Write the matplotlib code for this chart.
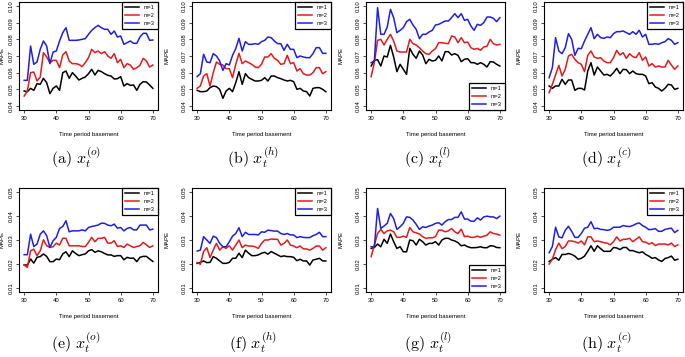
import numpy as np
import matplotlib
matplotlib.use("Agg")
import matplotlib.pyplot as plt

plt.rcParams['mathtext.fontset'] = 'cm'
plt.rcParams['font.family'] = ['Liberation Sans', 'DejaVu Sans']

# time period basement
x = np.arange(30, 71)

# (a) x_t^(o)
a_m1 = [0.049,0.0486,0.0506,0.0494,0.0534,0.053,0.0566,0.054,0.0474,0.0506,0.052,0.0494,0.06,0.061,0.0566,0.06,0.058,0.0556,0.0566,0.0574,0.0594,0.062,0.0586,0.0614,0.0606,0.0594,0.0584,0.058,0.0562,0.0564,0.0576,0.052,0.0534,0.0524,0.0526,0.0494,0.053,0.0546,0.0544,0.0526,0.0506]
a_m2 = [0.046,0.049,0.06,0.0604,0.055,0.0574,0.072,0.0694,0.066,0.0674,0.0674,0.063,0.0706,0.0726,0.067,0.0654,0.0654,0.065,0.0636,0.066,0.069,0.074,0.072,0.073,0.0714,0.0726,0.07,0.0686,0.0714,0.066,0.068,0.063,0.0654,0.0646,0.062,0.063,0.0644,0.0686,0.067,0.0634,0.0646]
a_m3 = [0.0554,0.0554,0.076,0.065,0.0664,0.074,0.079,0.076,0.0654,0.0724,0.073,0.079,0.084,0.087,0.0794,0.0794,0.0794,0.0796,0.08,0.0804,0.083,0.0854,0.087,0.0884,0.087,0.086,0.086,0.083,0.085,0.0814,0.082,0.077,0.078,0.079,0.0776,0.0776,0.0814,0.0836,0.0836,0.0794,0.0796]
# (b) x_t^(h)
b_m1 = [0.0494,0.0486,0.0486,0.049,0.051,0.052,0.0516,0.05,0.0446,0.049,0.0506,0.0486,0.054,0.0606,0.053,0.0594,0.057,0.056,0.055,0.055,0.0554,0.057,0.055,0.058,0.058,0.057,0.0564,0.0556,0.055,0.0554,0.0546,0.05,0.0506,0.049,0.0486,0.046,0.0506,0.051,0.051,0.05,0.0486]
b_m2 = [0.0506,0.052,0.058,0.0594,0.052,0.06,0.0664,0.065,0.0646,0.0624,0.0624,0.057,0.065,0.0716,0.0654,0.067,0.066,0.065,0.0634,0.063,0.065,0.0694,0.0694,0.0714,0.0686,0.0674,0.065,0.0654,0.0704,0.0654,0.066,0.061,0.0624,0.0594,0.0586,0.0586,0.06,0.063,0.063,0.0594,0.0606]
b_m3 = [0.0576,0.0594,0.071,0.0664,0.066,0.0714,0.07,0.067,0.0614,0.0654,0.0646,0.0704,0.0744,0.0806,0.073,0.0786,0.077,0.077,0.0774,0.077,0.0786,0.0794,0.0814,0.081,0.079,0.0774,0.0774,0.0734,0.077,0.074,0.074,0.069,0.07,0.0694,0.069,0.069,0.0714,0.075,0.075,0.0716,0.0716]
# (c) x_t^(l)
c_m1 = [0.064,0.0674,0.0678,0.064,0.07,0.0694,0.0764,0.0694,0.0606,0.065,0.062,0.059,0.0746,0.071,0.0686,0.073,0.0706,0.0654,0.068,0.067,0.0674,0.07,0.067,0.0726,0.0726,0.0706,0.0714,0.0704,0.0666,0.068,0.0684,0.066,0.066,0.065,0.066,0.065,0.0634,0.0666,0.0664,0.065,0.064]
c_m2 = [0.0576,0.066,0.0794,0.08,0.0766,0.08,0.083,0.079,0.073,0.0724,0.0724,0.0724,0.08,0.0774,0.0766,0.075,0.073,0.0714,0.071,0.073,0.0744,0.078,0.078,0.0776,0.0774,0.082,0.0814,0.078,0.081,0.078,0.0784,0.075,0.074,0.0746,0.0734,0.0754,0.0758,0.08,0.0774,0.0766,0.077]
c_m3 = [0.066,0.067,0.099,0.083,0.083,0.0874,0.098,0.093,0.084,0.0854,0.087,0.0906,0.092,0.0886,0.086,0.0804,0.083,0.083,0.0844,0.0854,0.0886,0.089,0.09,0.091,0.091,0.093,0.0954,0.093,0.0954,0.0914,0.092,0.088,0.0854,0.089,0.0884,0.09,0.0934,0.0934,0.0926,0.0906,0.093]
# (d) x_t^(c)
d_m1 = [0.052,0.0506,0.052,0.052,0.056,0.053,0.0556,0.0556,0.0494,0.0506,0.0506,0.0496,0.061,0.066,0.0586,0.0634,0.061,0.0586,0.059,0.058,0.06,0.0626,0.0594,0.062,0.0618,0.0594,0.061,0.0594,0.059,0.059,0.058,0.0534,0.054,0.0514,0.0506,0.049,0.0506,0.053,0.0526,0.05,0.0506]
d_m2 = [0.048,0.053,0.0586,0.0644,0.058,0.062,0.07,0.071,0.068,0.066,0.065,0.0606,0.0704,0.073,0.0694,0.0686,0.069,0.067,0.066,0.066,0.069,0.0734,0.0706,0.072,0.0686,0.0714,0.0696,0.069,0.072,0.0674,0.0694,0.064,0.0654,0.0634,0.064,0.0634,0.0634,0.0674,0.0646,0.062,0.064]
d_m3 = [0.057,0.063,0.081,0.073,0.0714,0.075,0.0834,0.08,0.0704,0.0746,0.0744,0.079,0.083,0.087,0.0804,0.083,0.081,0.0806,0.0814,0.081,0.0834,0.0846,0.0846,0.085,0.084,0.083,0.0846,0.083,0.0854,0.0814,0.083,0.077,0.077,0.0774,0.077,0.078,0.0786,0.0804,0.0794,0.077,0.078]
# (e) x_t^(o)
e_m1 = [0.0196,0.0196,0.0221,0.0204,0.0228,0.0231,0.0242,0.0232,0.021,0.021,0.0221,0.0218,0.0242,0.0251,0.0231,0.0255,0.0244,0.0235,0.0239,0.0242,0.0255,0.026,0.0249,0.0255,0.0251,0.0244,0.0238,0.0238,0.0232,0.0235,0.0235,0.0218,0.0228,0.0224,0.0225,0.021,0.0228,0.0232,0.0232,0.0221,0.0211]
e_m2 = [0.0196,0.0186,0.0255,0.0262,0.0235,0.0255,0.0301,0.0276,0.0269,0.0272,0.0287,0.0279,0.0307,0.0307,0.0276,0.0276,0.0276,0.0276,0.0273,0.0273,0.029,0.0311,0.0293,0.0307,0.0307,0.0311,0.0287,0.0287,0.0297,0.0273,0.0276,0.0269,0.0283,0.0276,0.0269,0.0273,0.0276,0.029,0.028,0.0269,0.0276]
e_m3 = [0.0239,0.0239,0.0324,0.0273,0.0283,0.0324,0.0338,0.0318,0.0269,0.0297,0.0311,0.0348,0.0356,0.038,0.0334,0.0338,0.0338,0.0338,0.0342,0.0338,0.0352,0.0356,0.0359,0.0362,0.037,0.0369,0.0362,0.0359,0.0366,0.0349,0.0352,0.0338,0.0348,0.0352,0.0342,0.0342,0.0362,0.0362,0.0362,0.0342,0.0345]
# (f) x_t^(h)
f_m1 = [0.0203,0.0207,0.0213,0.0206,0.0207,0.0231,0.0224,0.0213,0.0203,0.0203,0.0207,0.0224,0.0224,0.0245,0.0227,0.0258,0.0245,0.0235,0.0235,0.0238,0.0245,0.0249,0.0241,0.0252,0.0245,0.0238,0.0231,0.0234,0.0231,0.0231,0.0228,0.0214,0.022,0.0213,0.0213,0.0196,0.0217,0.022,0.0224,0.0213,0.0213]
f_m2 = [0.0207,0.0199,0.0252,0.0268,0.0227,0.0258,0.0286,0.0258,0.0272,0.0265,0.0276,0.0258,0.0279,0.03,0.0268,0.0279,0.0275,0.0275,0.0272,0.0265,0.0286,0.03,0.03,0.0304,0.0303,0.0303,0.0279,0.0286,0.03,0.0279,0.0275,0.0268,0.0275,0.0263,0.0263,0.0258,0.0265,0.0275,0.0275,0.0258,0.0268]
f_m3 = [0.0254,0.0258,0.0314,0.03,0.0286,0.0316,0.031,0.0286,0.0272,0.0272,0.0293,0.0316,0.0327,0.0351,0.0314,0.0332,0.0323,0.0323,0.0323,0.0321,0.0334,0.0332,0.0341,0.0339,0.0337,0.0337,0.0327,0.0323,0.0327,0.0321,0.0321,0.031,0.0314,0.0311,0.031,0.031,0.0318,0.0323,0.0332,0.0314,0.0314]
# (g) x_t^(l)
g_m1 = [0.0265,0.0269,0.0283,0.0272,0.0303,0.0286,0.0325,0.0293,0.0265,0.0272,0.0251,0.0251,0.03,0.0297,0.0279,0.0303,0.0293,0.0279,0.0286,0.0286,0.0293,0.0279,0.03,0.0307,0.0307,0.03,0.0296,0.0289,0.0276,0.0279,0.0272,0.0268,0.0268,0.0269,0.0272,0.0268,0.0268,0.0276,0.0275,0.0269,0.0268]
g_m2 = [0.0231,0.0279,0.0327,0.0344,0.0327,0.0338,0.0341,0.0334,0.0311,0.0311,0.0316,0.0311,0.0352,0.0334,0.033,0.0325,0.0314,0.0307,0.0309,0.0309,0.0314,0.0341,0.0341,0.0334,0.0338,0.0348,0.0334,0.0327,0.0345,0.0314,0.0316,0.0311,0.0311,0.0316,0.0311,0.0316,0.032,0.0334,0.0327,0.0325,0.032]
g_m3 = [0.0272,0.0272,0.0431,0.0348,0.0358,0.0369,0.041,0.0389,0.0344,0.0355,0.0369,0.0396,0.0394,0.0383,0.0365,0.0344,0.0355,0.0352,0.0358,0.0362,0.0369,0.0372,0.0362,0.0376,0.0385,0.0385,0.0394,0.0394,0.0417,0.0387,0.0387,0.0378,0.0378,0.0392,0.0383,0.0396,0.0399,0.0396,0.0396,0.0389,0.0399]
# (h) x_t^(c)
h_m1 = [0.0211,0.022,0.0227,0.0216,0.024,0.024,0.0244,0.024,0.0233,0.022,0.0224,0.0233,0.0253,0.0276,0.0253,0.0276,0.0264,0.0253,0.0253,0.0253,0.0269,0.0267,0.026,0.0269,0.0269,0.0256,0.0256,0.0251,0.0247,0.0251,0.024,0.0233,0.0224,0.0227,0.0217,0.0211,0.0223,0.0227,0.0233,0.0216,0.022]
h_m2 = [0.02,0.022,0.026,0.0287,0.0264,0.0273,0.0296,0.0296,0.0293,0.0287,0.0296,0.028,0.0313,0.0313,0.0293,0.0296,0.0293,0.0289,0.0287,0.028,0.0293,0.0313,0.0296,0.0303,0.0303,0.0307,0.0293,0.0303,0.0313,0.0293,0.0291,0.0283,0.0289,0.0277,0.0283,0.0283,0.0283,0.028,0.0287,0.0273,0.028]
h_m3 = [0.0247,0.0273,0.0353,0.0313,0.0309,0.034,0.0357,0.0336,0.0311,0.0311,0.0327,0.0349,0.0353,0.0376,0.0347,0.0349,0.0344,0.0343,0.034,0.0343,0.0353,0.0353,0.0353,0.036,0.0357,0.0356,0.036,0.0367,0.0371,0.036,0.0353,0.0343,0.0344,0.0347,0.0336,0.0336,0.0344,0.0347,0.0349,0.0331,0.034]

series = [(a_m1, a_m2, a_m3), (b_m1, b_m2, b_m3), (c_m1, c_m2, c_m3), (d_m1, d_m2, d_m3),
          (e_m1, e_m2, e_m3), (f_m1, f_m2, f_m3), (g_m1, g_m2, g_m3), (h_m1, h_m2, h_m3)]
letters = ["a", "b", "c", "d", "e", "f", "g", "h"]
supers = ["o", "h", "l", "c", "o", "h", "l", "c"]
legend_labels = ["m=1", "m=2", "m=3"]
colors = ["black", "#e41a1c", "#1f1fe0"]
top_ticks = [0.04, 0.05, 0.06, 0.07, 0.08, 0.09, 0.10]
bottom_ticks = [0.01, 0.02, 0.03, 0.04, 0.05]

W, H = 685, 357
col_left = [19, 192, 366, 544]
col_width = 139
caption_x = [76, 253, 428, 606]


#draws one R-like panel
def draw_panel(fig, i):
    row, col = divmod(i, 4)
    if row == 0:
        top, bot, ticks = 2, 110, top_ticks
    else:
        top, bot, ticks = 188, 292, bottom_ticks
    ax = fig.add_axes([col_left[col] / W, 1 - bot / H, col_width / W, (bot - top) / H])
    for vals, c, lab in zip(series[i], colors, legend_labels):
        ax.plot(x, vals, color=c, lw=1.1, label=lab)
    ax.set_xlim(28.4, 71.6)
    pad = (ticks[-1] - ticks[0]) * 0.04
    ax.set_ylim(ticks[0] - pad, ticks[-1] + pad)
    ax.set_xticks([30, 40, 50, 60, 70])
    ax.set_yticks(ticks)
    ax.set_yticklabels(["%.2f" % t for t in ticks], rotation=90, va="center")
    ax.tick_params(labelsize=4.3, length=2.5, width=0.5, pad=1.5)
    for s in ax.spines.values():
        s.set_linewidth(0.8)
    ax.set_xlabel("Time period basement", fontsize=4.3, labelpad=8)
    ax.set_ylabel("MAPE", fontsize=4.3)
    if col == 0:
        ax.yaxis.set_label_coords(-0.105, 0.5)
    else:
        ax.yaxis.set_label_coords(-0.16, 0.5)
    loc = "lower right" if supers[i] == "l" else "upper right"
    leg = ax.legend(loc=loc, fontsize=4, borderaxespad=0, fancybox=False,
                    framealpha=1, edgecolor="black", handlelength=2.6,
                    borderpad=0.6, labelspacing=0.5)
    leg.get_frame().set_linewidth(0.9)
    # caption under the panel
    cy = 158 if row == 0 else 343
    fig.text(caption_x[col] / W, 1 - cy / H,
             r"$\mathrm{(%s)}\ x_t^{(%s)}$" % (letters[i], supers[i]),
             fontsize=11.5, ha="center", va="center")


fig = plt.figure(figsize=(6.85, 3.57), dpi=100)
for i in range(8):
    draw_panel(fig, i)
fig.savefig("out.png", dpi=100)
